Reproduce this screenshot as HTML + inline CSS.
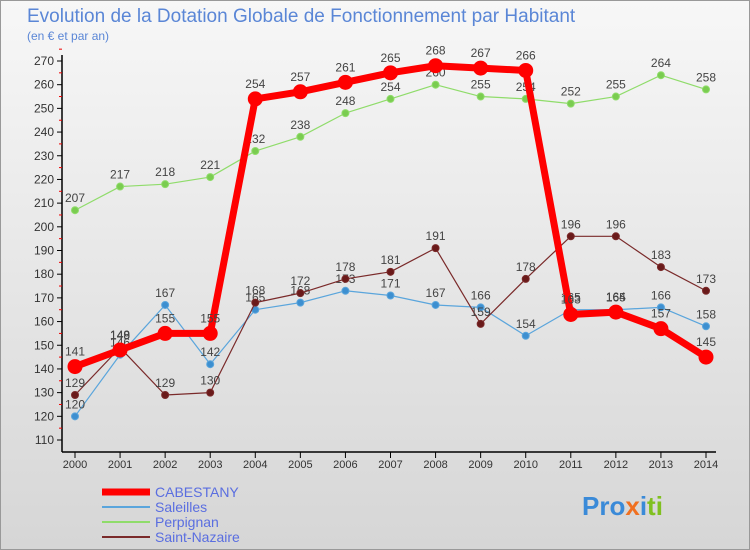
<!DOCTYPE html>
<html><head><meta charset="utf-8"><style>
body{margin:0;width:750px;height:550px;overflow:hidden;font-family:"Liberation Sans",sans-serif}
#bg{position:absolute;left:0;top:0;width:748px;height:548px;border:1px solid #999;background:linear-gradient(#f7f7f7,#d6d6d6)}
</style></head><body>
<div id="bg"></div>
<svg id="c" width="750" height="550" style="position:absolute;left:0;top:0" font-family="Liberation Sans, sans-serif">
<text x="27" y="22" font-size="19" fill="#5a86d6">Evolution de la Dotation Globale de Fonctionnement par Habitant</text>
<text x="27" y="40" font-size="12" fill="#5a86d6">(en € et par an)</text>
</svg>
<script>
const years=[2000,2001,2002,2003,2004,2005,2006,2007,2008,2009,2010,2011,2012,2013,2014];
const cabestany=[141,148,155,155,254,257,261,265,268,267,266,163,164,157,145];
const saleilles=[120,146,167,142,165,168,173,171,167,166,154,165,165,166,158];
const perpignan=[207,217,218,221,232,238,248,254,260,255,254,252,255,264,258];
const saintNazaire=[129,149,129,130,168,172,178,181,191,159,178,196,196,183,173];
const yTicks=[110,120,130,140,150,160,170,180,190,200,210,220,230,240,250,260,270];
const svg=document.getElementById('c');const NS='http://www.w3.org/2000/svg';
const X=i=>75+i*(706-75)/(years.length-1);
const Y=v=>440-(v-110)*(440-61)/160;
function mk(t,a,p){const e=document.createElementNS(NS,t);for(const k in a)e.setAttribute(k,a[k]);(p||svg).appendChild(e);return e;}
const ax=mk('g',{});


mk('line',{x1:62,y1:55,x2:62,y2:452,stroke:'#000','stroke-width':1.5},ax);
mk('line',{x1:62,y1:452,x2:716,y2:452,stroke:'#000','stroke-width':1.5},ax);
yTicks.forEach(v=>{mk('line',{x1:57,x2:62,y1:Y(v),y2:Y(v),stroke:'#000'},ax);
 mk('line',{x1:59,x2:62,y1:Y(v+5),y2:Y(v+5),stroke:'#e00'},ax);
 const t=mk('text',{x:54,y:Y(v)+4,'font-size':12,fill:'#333','text-anchor':'end'},ax);t.textContent=v;
 
 });
years.forEach((y,i)=>{mk('line',{x1:X(i),x2:X(i),y1:452,y2:458,stroke:'#000'},ax);
 const t=mk('text',{x:X(i),y:468,'font-size':11,fill:'#333','text-anchor':'middle'},ax);t.textContent=y;
 
 });
function series(name,vals,color,w,r,dot,lblOff){
 const g=mk('g',{});
 
 
 mk('polyline',{points:vals.map((v,i)=>X(i)+','+Y(v)).join(' '),fill:'none',stroke:color,'stroke-width':w,'stroke-linejoin':'round'},g);
 vals.forEach((v,i)=>{const c=mk('circle',{cx:X(i),cy:Y(v),r:r,fill:dot,stroke:color,'stroke-width':1},g);
  
  
  const t=mk('text',{x:X(i),y:Y(v)-lblOff,'font-size':12,fill:'#444','text-anchor':'middle'},g);t.textContent=v;
  
  });
}
series('perpignan',perpignan,'#8fdc6a',1.2,3.5,'#7acc50',8);
series('saleilles',saleilles,'#5aa5dc',1.2,3.5,'#3d8fd0',8);
series('saint-nazaire',saintNazaire,'#7a2a2a',1.2,3.5,'#6a1a1a',8);
series('cabestany',cabestany,'#ff0000',7,7,'#ff0000',11);
const lg=[['CABESTANY','#ff0000',7],['Saleilles','#5aa5dc',2],['Perpignan','#8fdc6a',2],['Saint-Nazaire','#7a2a2a',2]];
lg.forEach((l,i)=>{const g=mk('g',{});
 
 
 const y=492+i*15;mk('line',{x1:102,x2:150,y1:y,y2:y,stroke:l[1],'stroke-width':l[2]},g);
 const t=mk('text',{x:155,y:y+5,'font-size':14,fill:'#5a6ee0'},g);t.textContent=l[0];});
const lo=mk('text',{x:582,y:515,'font-size':26,'font-weight':'bold',fill:'#f0a020'});


lo.innerHTML='<tspan fill="#3a8ad8">Pro</tspan><tspan fill="#f07020">x</tspan><tspan fill="#3a8ad8">i</tspan><tspan fill="#80c020">ti</tspan>';
</script>
</body></html>
